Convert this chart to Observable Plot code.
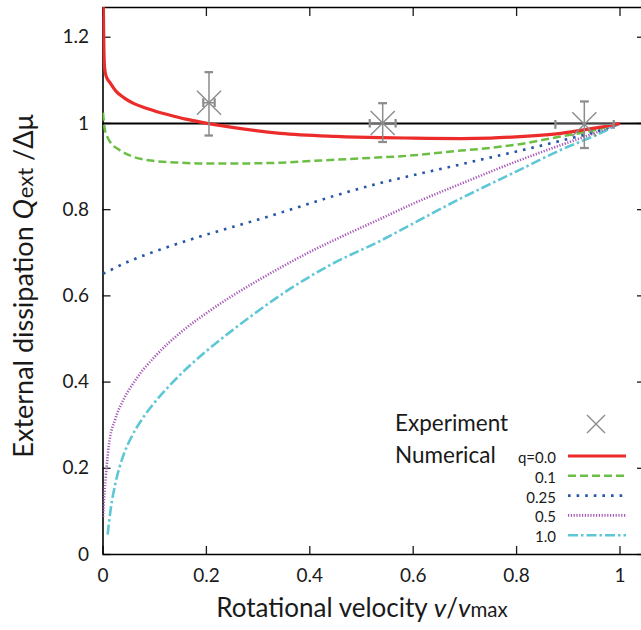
<!DOCTYPE html>
<html><head><meta charset="utf-8">
<script src="https://cdn.jsdelivr.net/npm/d3@7"></script>
<script src="https://cdn.jsdelivr.net/npm/@observablehq/plot@0.6"></script>
<style>body{margin:0;background:#fff} svg{display:block}</style>
</head><body><div id="chart"></div>
<script>
// ---- data ----
const v00 = [0.0005, 0.0015, 0.003, 0.006, 0.0145, 0.025, 0.04, 0.06, 0.079, 0.1, 0.13, 0.16, 0.189, 0.25, 0.343, 0.45, 0.537, 0.6, 0.692, 0.75, 0.8, 0.886, 0.924, 0.96, 1.0];
const q00 = [1.29, 1.19, 1.13, 1.11, 1.093, 1.075, 1.06, 1.046, 1.037, 1.029, 1.019, 1.01, 1.003, 0.991, 0.977, 0.970, 0.967, 0.966, 0.965, 0.966, 0.969, 0.977, 0.984, 0.991, 1.0];

const v01 = [0, 0.003, 0.008, 0.015, 0.03, 0.06, 0.1, 0.15, 0.2, 0.25, 0.343, 0.42, 0.5, 0.6, 0.692, 0.731, 0.8, 0.886, 0.95, 1.0];
const q01 = [1.025, 0.99, 0.97, 0.955, 0.94, 0.922, 0.913, 0.909, 0.907, 0.907, 0.909, 0.914, 0.919, 0.926, 0.937, 0.941, 0.951, 0.970, 0.984, 1.0];

const v025 = [0, 0.05, 0.105, 0.17, 0.234, 0.3, 0.357, 0.45, 0.537, 0.6, 0.692, 0.731, 0.8, 0.886, 0.95, 1.0];
const q025 = [0.651, 0.68, 0.705, 0.731, 0.754, 0.777, 0.798, 0.833, 0.862, 0.880, 0.905, 0.916, 0.935, 0.960, 0.980, 1.0];

const v05 = [0, 0.002, 0.005, 0.011, 0.024, 0.04, 0.063, 0.105, 0.15, 0.2, 0.25, 0.3, 0.35, 0.4, 0.45, 0.537, 0.6, 0.692, 0.731, 0.8, 0.886, 0.95, 1.0];
const q05 = [0.087, 0.13, 0.175, 0.25, 0.315, 0.36, 0.405, 0.465, 0.515, 0.56, 0.6, 0.636, 0.67, 0.702, 0.731, 0.779, 0.814, 0.860, 0.879, 0.912, 0.950, 0.977, 1.0];

const v10 = [0.009, 0.0145, 0.024, 0.04, 0.056, 0.075, 0.1, 0.125, 0.15, 0.2, 0.25, 0.3, 0.35, 0.44, 0.537, 0.6, 0.692, 0.731, 0.8, 0.886, 0.95, 1.0];
const q10 = [0.046, 0.102, 0.165, 0.232, 0.275, 0.313, 0.353, 0.387, 0.418, 0.472, 0.52, 0.565, 0.607, 0.672, 0.728, 0.768, 0.826, 0.849, 0.889, 0.939, 0.971, 1.0];

const seriesLabels = ["q=0.0", "0.1", "0.25", "0.5", "1.0"];

// experiment points with error bars
const expV    = [0.205, 0.541, 0.931];
const expQ    = [1.048, 1.001, 0.998];
const expVlo  = [0.194, 0.516, 0.875];
const expVhi  = [0.216, 0.566, 0.988];
const expQlo  = [0.972, 0.957, 0.943];
const expQhi  = [1.119, 1.047, 1.051];

const xTicks = [0, 0.2, 0.4, 0.6, 0.8, 1];
const yTicks = [0, 0.2, 0.4, 0.6, 0.8, 1, 1.2];

// ---- styles ----
const styles = [
  {color: "#ec2b2b", width: 3.2, dash: null},
  {color: "#6cbf45", width: 2.5, dash: "8,4"},
  {color: "#2556a8", width: 2.6, dash: "2.6,6"},
  {color: "#a555b6", width: 2.6, dash: "1.2,1.6"},
  {color: "#5ec7d6", width: 2.6, dash: "10,3,2.5,3"}
];
const grey = "#8c8c8c";
const font = "Lato, 'Open Sans', sans-serif";

const series = [[v00, q00], [v01, q01], [v025, q025], [v05, q05], [v10, q10]];
const curves = series.map(([vs, qs], i) => vs.map((v, j) => ({v, q: qs[j], s: seriesLabels[i]})));
const exp = expV.map((v, i) => ({v, q: expQ[i], vlo: expVlo[i], vhi: expVhi[i], qlo: expQlo[i], qhi: expQhi[i]}));

const fmt = d => String(+d.toFixed(1));

const W = 641, H = 630;
const svg = Plot.plot({
  width: W, height: H,
  marginLeft: 102.5, marginRight: 0, marginTop: 7, marginBottom: 76,
  style: {fontFamily: font, fontSize: "19px", color: "#1a1a1a", background: "#fff"},
  x: {domain: [0, 1.0416], label: null},
  y: {domain: [0, 1.269], label: null},
  marks: [
    // inward ticks on four sides
    Plot.axisX(xTicks, {anchor: "bottom", tickSize: -8, text: null, strokeWidth: 1.3}),
    Plot.axisX(xTicks, {anchor: "top", tickSize: -8, text: null, strokeWidth: 1.3}),
    Plot.axisY(yTicks, {anchor: "left", tickSize: -8, text: null, strokeWidth: 1.3}),
    Plot.axisY(yTicks, {anchor: "right", tickSize: -5, text: null, strokeWidth: 1.3}),
    Plot.axisX(xTicks, {anchor: "bottom", tickSize: 0, tickPadding: 14, tickFormat: fmt, fontSize: 19, label: null}),
    Plot.axisY(yTicks, {anchor: "left", tickSize: 0, tickPadding: 14, tickFormat: fmt, fontSize: 19, label: null}),
    // frame (left, bottom, top)
    Plot.ruleX([0], {stroke: "#000", strokeWidth: 1.6}),
    Plot.ruleY([0], {stroke: "#000", strokeWidth: 1.6}),
    Plot.ruleY([1.269], {stroke: "#000", strokeWidth: 1.6}),
    // reference line
    Plot.ruleY([1], {stroke: "#000", strokeWidth: 2}),
    // curves (drawn back to front)
    ...[4, 3, 2, 1, 0].map(i => Plot.line(curves[i], {
      x: "v", y: "q", curve: "monotone-x", clip: true,
      stroke: styles[i].color, strokeWidth: styles[i].width,
      strokeDasharray: styles[i].dash, strokeLinecap: "butt"
    })),
    // experiment error bars
    Plot.link(exp, {x1: "v", x2: "v", y1: "qlo", y2: "qhi", stroke: grey, strokeWidth: 1.5, marker: "tick"}),
    Plot.link(exp, {x1: "vlo", x2: "vhi", y1: "q", y2: "q", stroke: grey, strokeWidth: 1.5, marker: "tick"}),
    Plot.dot(exp, {x: "v", y: "q", symbol: "times", r: 11, stroke: grey, strokeWidth: 1.4})
  ]
});

const s = d3.select(svg);

// y-axis title
const yt = s.append("text")
  .attr("transform", "translate(33,286) rotate(-90)")
  .attr("text-anchor", "middle")
  .attr("font-family", font).attr("font-size", 27).attr("fill", "#1a1a1a");
yt.append("tspan").text("External dissipation ");
yt.append("tspan").attr("font-style", "italic").text("Q");
yt.append("tspan").attr("font-size", 22).attr("dx", 1).text("ext");
yt.append("tspan").text(" /Δμ");

// x-axis title
const xt = s.append("text")
  .attr("x", 362).attr("y", 617)
  .attr("text-anchor", "middle")
  .attr("font-family", font).attr("font-size", 26).attr("fill", "#1a1a1a");
xt.append("tspan").text("Rotational velocity ");
xt.append("tspan").attr("font-style", "italic").text("v");
xt.append("tspan").text("/");
xt.append("tspan").attr("font-style", "italic").text("v");
xt.append("tspan").attr("font-size", 20.5).text("max");

// legend
const lg = s.append("g").attr("font-family", font).attr("fill", "#1a1a1a").attr("text-anchor", "start");
lg.append("text").attr("x", 395).attr("y", 431).attr("font-size", 22.5).text("Experiment");
const mx = 596, my = 424, mr = 9;
lg.append("path").attr("d", `M${mx-mr},${my-mr}L${mx+mr},${my+mr}M${mx-mr},${my+mr}L${mx+mr},${my-mr}`)
  .attr("stroke", grey).attr("stroke-width", 1.4).attr("fill", "none");
lg.append("text").attr("x", 395).attr("y", 463).attr("font-size", 22.5).text("Numerical");
seriesLabels.forEach((lab, i) => {
  const yb = 463 + i * 19.8;
  lg.append("text").attr("x", 556).attr("y", yb).attr("text-anchor", "end").attr("font-size", 15).text(lab);
  lg.append("line").attr("x1", 568).attr("x2", 626).attr("y1", yb - 7).attr("y2", yb - 7)
    .attr("stroke", styles[i].color).attr("stroke-width", styles[i].width)
    .attr("stroke-dasharray", styles[i].dash);
});

document.getElementById("chart").appendChild(svg);
</script></body></html>
